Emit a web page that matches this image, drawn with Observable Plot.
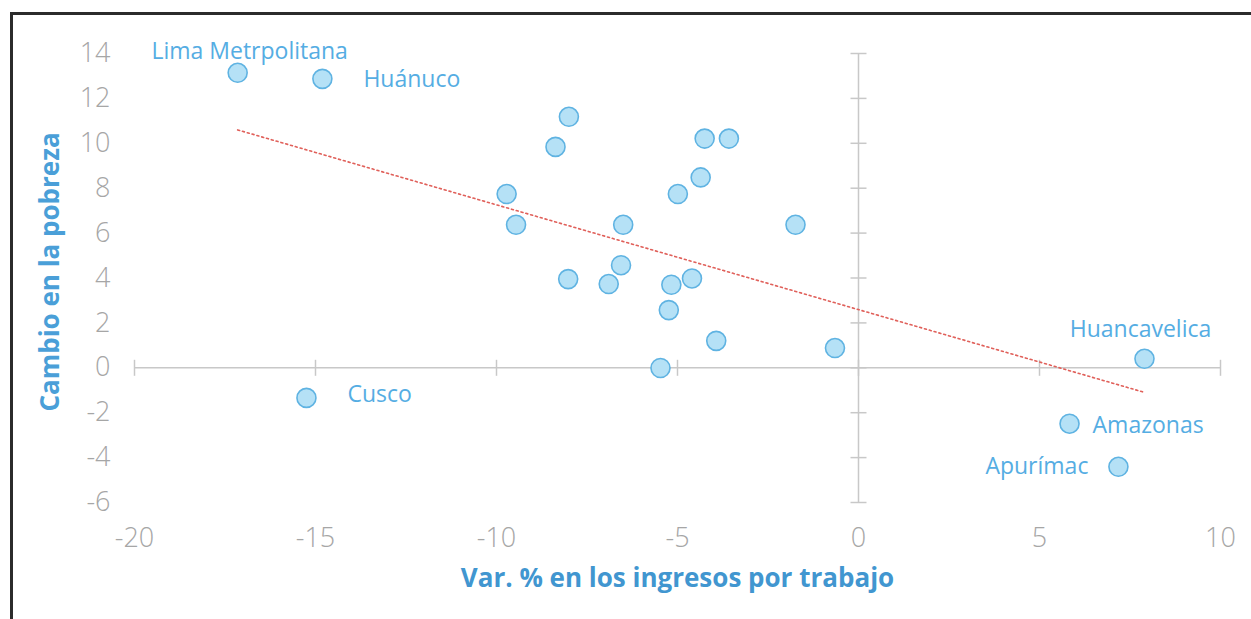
<!DOCTYPE html>
<html>
<head>
<meta charset="utf-8">
<script src="https://cdn.jsdelivr.net/npm/d3@7"></script>
<script src="https://cdn.jsdelivr.net/npm/@observablehq/plot@0.6"></script>
<style>
  html, body { margin: 0; padding: 0; background: #fff; }
  #wrap { position: relative; width: 1251px; height: 619px; overflow: hidden; }
  #frame { position: absolute; top: 12px; left: 10px; width: 1300px; height: 700px;
           border-top: 3px solid #2b2b2b; border-left: 3px solid #2b2b2b; pointer-events: none; }
  svg { display: block; }
</style>
</head>
<body>
<div id="wrap"><div id="frame"></div></div>
<script>
// Var. % en los ingresos por trabajo (x) vs Cambio en la pobreza (y)
const ingresos = [-17.15, -14.81, -15.25, 7.90, 5.83, 7.18,
  -8.00, -8.37, -4.25, -3.58, -4.36, -4.99, -9.72, -9.46, -6.50, -1.74,
  -8.02, -6.90, -6.56, -5.17, -4.60, -5.24, -3.93, -0.65, -5.47];
const pobreza = [13.14, 12.87, -1.34, 0.40, -2.49, -4.41,
  11.18, 9.84, 10.21, 10.21, 8.48, 7.74, 7.74, 6.37, 6.37, 6.37,
  3.95, 3.73, 4.57, 3.70, 3.98, 2.57, 1.20, 0.88, -0.01];
const regiones = ["Lima Metrpolitana", "Huánuco", "Cusco", "Huancavelica", "Amazonas", "Apurímac",
  "", "", "", "", "", "", "", "", "", "", "", "", "", "", "", "", "", "", ""];
const xTicks = [-20, -15, -10, -5, 0, 5, 10];
const yTicks = [-6, -4, -2, 0, 2, 4, 6, 8, 10, 12, 14];
const xTitle = "Var. % en los ingresos por trabajo";
const yTitle = "Cambio en la pobreza";

const data = ingresos.map((x, i) => ({x, y: pobreza[i], name: regiones[i]}));

const vTick = {draw(ctx, size) { const h = Math.sqrt(size / Math.PI); ctx.moveTo(0, -h); ctx.lineTo(0, h); }};
const hTick = {draw(ctx, size) { const h = Math.sqrt(size / Math.PI); ctx.moveTo(-h, 0); ctx.lineTo(h, 0); }};

const axisColor = "#c8c8c8";
const labelColor = "#55ade3";
const labelFont = {fontSize: 23, fill: labelColor, fontWeight: 500};
const byName = n => data.filter(d => d.name === n);

const chart = Plot.plot({
  width: 1251,
  height: 619,
  marginLeft: 134,
  marginRight: 31,
  marginTop: 53,
  marginBottom: 117,
  style: {fontFamily: "'Open Sans', sans-serif", background: "#fff"},
  x: {domain: [xTicks[0], xTicks[xTicks.length - 1]]},
  y: {domain: [yTicks[0], yTicks[yTicks.length - 1]]},
  marks: [
    Plot.ruleY([0], {x1: xTicks[0], x2: xTicks[xTicks.length - 1], stroke: axisColor, strokeWidth: 1.5}),
    Plot.ruleX([0], {y1: yTicks[0], y2: yTicks[yTicks.length - 1], stroke: axisColor, strokeWidth: 1.5}),
    Plot.dot(xTicks, {x: d => d, y: () => 0, symbol: vTick, r: 8, fill: "none", stroke: axisColor, strokeWidth: 1.5}),
    Plot.dot(yTicks, {x: () => 0, y: d => d, symbol: hTick, r: 8, fill: "none", stroke: axisColor, strokeWidth: 1.5}),
    Plot.linearRegressionY(data, {x: "x", y: "y", ci: 0, stroke: "#e0605a", strokeWidth: 1.6, strokeDasharray: "2,3"}),
    Plot.dot(data, {x: "x", y: "y", r: 9.5, fill: "#b5e1f6", stroke: "#5fb3e2", strokeWidth: 1.6}),
    Plot.text(byName("Lima Metrpolitana"), {x: "x", y: "y", text: "name", dx: 12, dy: -21, textAnchor: "middle", ...labelFont}),
    Plot.text(byName("Huánuco"), {x: "x", y: "y", text: "name", dx: 41, dy: 1, textAnchor: "start", ...labelFont}),
    Plot.text(byName("Cusco"), {x: "x", y: "y", text: "name", dx: 41, dy: -3, textAnchor: "start", ...labelFont}),
    Plot.text(byName("Huancavelica"), {x: "x", y: "y", text: "name", dx: -4, dy: -29, textAnchor: "middle", ...labelFont}),
    Plot.text(byName("Amazonas"), {x: "x", y: "y", text: "name", dx: 23, dy: 2, textAnchor: "start", ...labelFont}),
    Plot.text(byName("Apurímac"), {x: "x", y: "y", text: "name", dx: -30, dy: 0, textAnchor: "end", ...labelFont}),
    Plot.axisX({ticks: xTicks, tickSize: 0, tickPadding: 25, tickFormat: d => String(d), label: null,
      fontSize: 27, fontWeight: 300, fill: "#a6a6a6"}),
    Plot.axisY({ticks: yTicks, tickSize: 0, tickPadding: 24, tickFormat: d => String(d), label: null,
      fontSize: 27, fontWeight: 300, fill: "#a6a6a6"}),
    Plot.text([xTitle], {frameAnchor: "bottom", textAnchor: "middle", dy: 84, fontSize: 26, fontWeight: 700, fill: "#4196d0"}),
    Plot.text([yTitle], {frameAnchor: "left", textAnchor: "middle", dx: -84, dy: -6, rotate: -90, fontSize: 26, fontWeight: 700, fill: "#4a9fd8"})
  ]
});
document.getElementById("wrap").prepend(chart);
</script>
</body>
</html>
